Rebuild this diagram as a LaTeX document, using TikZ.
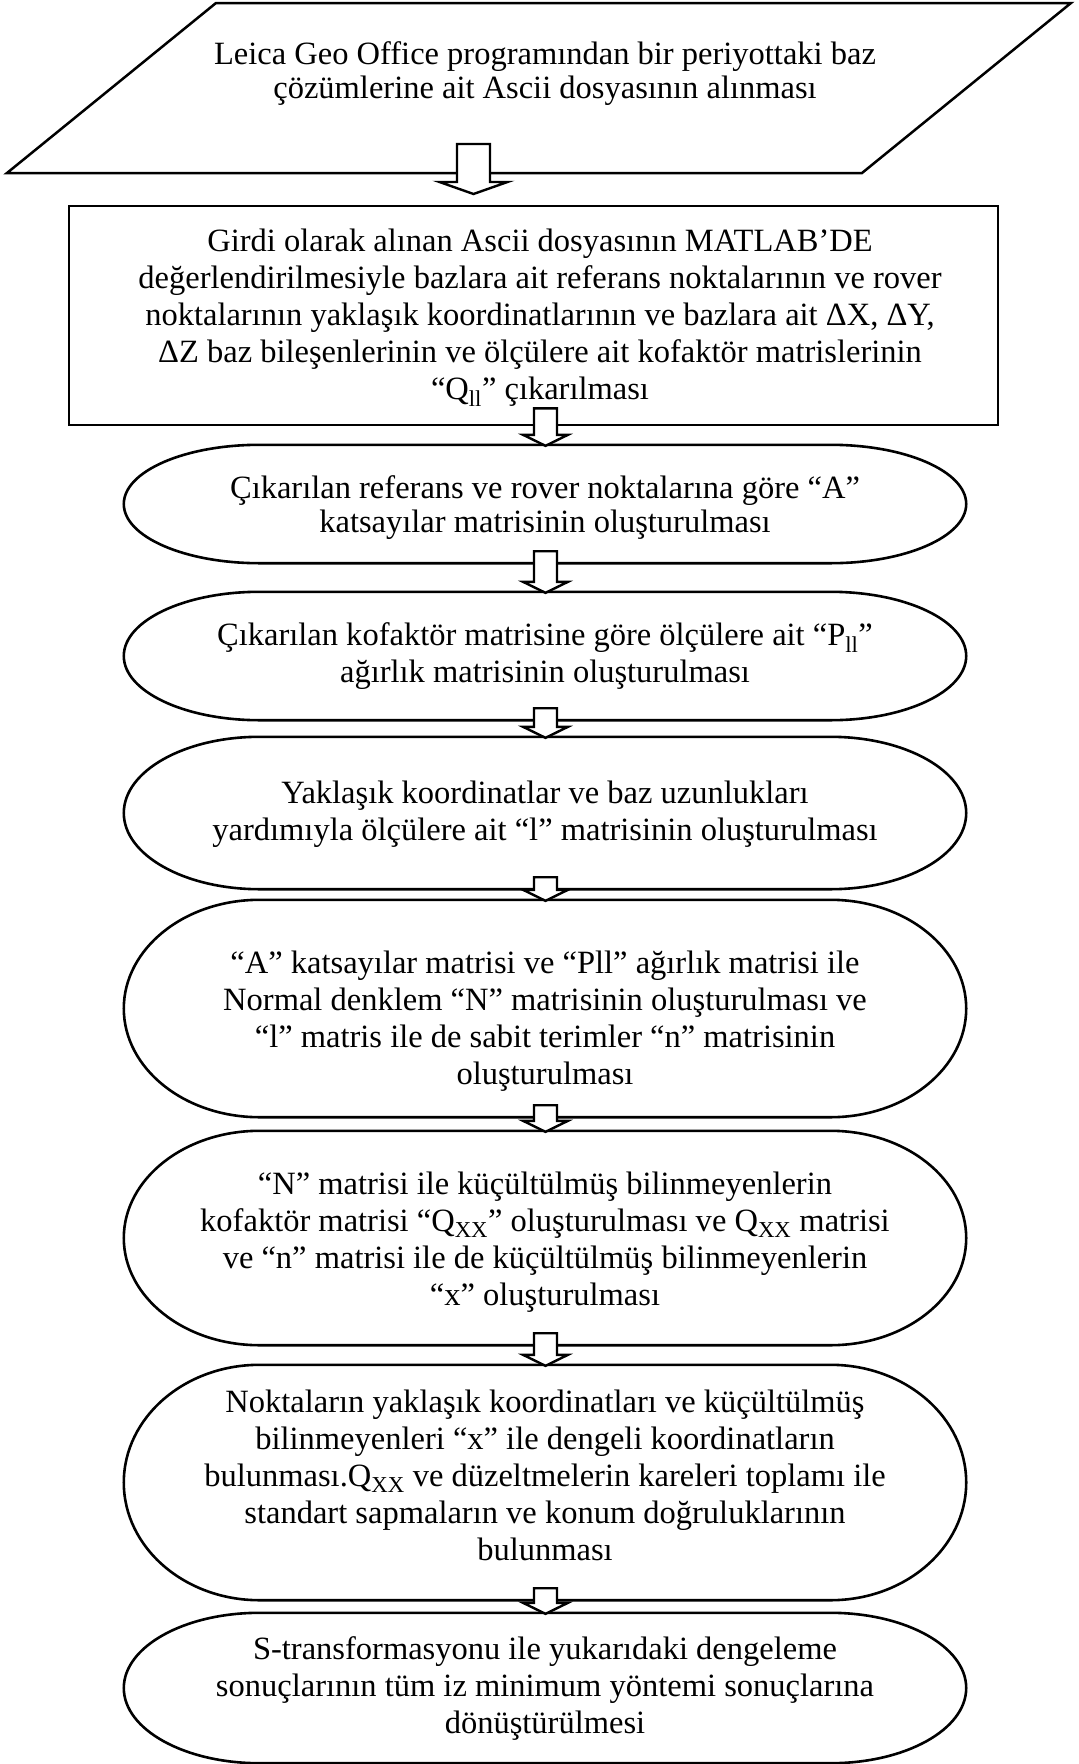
\documentclass[tikz,border=0pt]{standalone}
\usepackage{fontspec}
\setmainfont{Liberation Serif}
\usetikzlibrary{calc}
\newcommand\blockarrow[5]{% start, tip, shaft half width, head half width, head length
  \draw[fill=white, line width=2.4bp, line join=miter] let \p1=#1, \p2=#2 in
    ({\x2-#3bp},\y1) -- ({\x2-#3bp},{\y2+#5bp}) -- ({\x2-#4bp},{\y2+#5bp}) -- (\x2,\y2)
    -- ({\x2+#4bp},{\y2+#5bp}) -- ({\x2+#3bp},{\y2+#5bp}) -- ({\x2+#3bp},\y1) -- cycle;}
\newcommand\stadiumoutline[1]{%
  \draw[line width=2.6bp] let \p1=(#1.north west), \p2=(#1.south east),
    \n1={0.161*(\x2-\x1)}, \n2={(\y1-\y2)/2} in
    ({\x1+\n1},\y1) -- ({\x2-\n1},\y1)
    arc[start angle=90, end angle=-90, x radius=\n1, y radius=\n2]
    -- ({\x1+\n1},\y2)
    arc[start angle=270, end angle=90, x radius=\n1, y radius=\n2] -- cycle;}
\newcommand\sub[1]{\textsubscript{#1}}
\begin{document}
\begin{tikzpicture}[x=1bp, y=-1bp,
  txt/.style={font=\fontsize{32.5bp}{37bp}\selectfont, align=center, inner sep=0pt},
  tighttxt/.style={font=\fontsize{32.5bp}{34bp}\selectfont, align=center, inner sep=0pt},
  stad/.style={inner sep=0pt, minimum width=842bp, minimum height=#1}]
\useasboundingbox[fill=white] (0,0) rectangle (1078,1764);

% input parallelogram
\coordinate (ptl) at (216,3);
\coordinate (ptr) at (1071,3);
\coordinate (pbr) at (862,173);
\coordinate (pbl) at (7,173);
\draw[line width=2.5bp, line join=miter] (ptl) -- (ptr) -- (pbr) -- (pbl) -- cycle;
\node[tighttxt] (p) at (545,74) {Leica Geo Office programından bir periyottaki baz\\
  çözümlerine ait Ascii dosyasının alınması};

% rectangle
\node[draw, line width=2.8bp, inner sep=0pt, minimum width=929bp, minimum height=219bp] (r) at (533.5,315.5) {};
\node[txt] (rt) at (540,317.5) {Girdi olarak alınan Ascii dosyasının MATLAB’DE\\
  değerlendirilmesiyle bazlara ait referans noktalarının ve rover\\
  noktalarının yaklaşık koordinatlarının ve bazlara ait ΔX, ΔY,\\
  ΔZ baz bileşenlerinin ve ölçülere ait kofaktör matrislerinin\\
  “Q\sub{ll}” çıkarılması};

% process shapes
\node[stad=118bp] (e1) at (545,504) {};
\node[stad=128bp] (e2) at (545,656) {};
\node[stad=152bp] (e3) at (545,813) {};
\node[stad=217bp] (e4) at (545,1008.5) {};
\node[stad=214bp] (e5) at (545,1238) {};
\node[stad=235bp] (e6) at (545,1482.5) {};
\node[stad=150bp] (e7) at (545,1688) {};
\foreach \nm in {e1,e2,e3,e4,e5,e6,e7} {\stadiumoutline{\nm}}

\node[tighttxt] (e1t) at ($(e1.center)+(0,3.5)$) {Çıkarılan referans ve rover noktalarına göre “A”\\
  katsayılar matrisinin oluşturulması};
\node[txt] (e2t) at (e2.center) {Çıkarılan kofaktör matrisine göre ölçülere ait “P\sub{ll}”\\
  ağırlık matrisinin oluşturulması};
\node[txt] (e3t) at ($(e3.center)+(0,1)$) {Yaklaşık koordinatlar ve baz uzunlukları\\
  yardımıyla ölçülere ait “l” matrisinin oluşturulması};
\node[txt] (e4t) at ($(e4.center)+(0,13)$) {“A” katsayılar matrisi ve “Pll” ağırlık matrisi ile\\
  Normal denklem “N” matrisinin oluşturulması ve\\
  “l” matris ile de sabit terimler “n” matrisinin\\
  oluşturulması};
\node[txt] (e5t) at ($(e5.center)+(0,4)$) {“N” matrisi ile küçültülmüş bilinmeyenlerin\\
  kofaktör matrisi “Q\sub{XX}” oluşturulması ve Q\sub{XX} matrisi\\
  ve “n” matrisi ile de küçültülmüş bilinmeyenlerin\\
  “x” oluşturulması};
\node[txt] (e6t) at ($(e6.center)+(0,-7)$) {Noktaların yaklaşık koordinatları ve küçültülmüş\\
  bilinmeyenleri “x” ile dengeli koordinatların\\
  bulunması.Q\sub{XX} ve düzeltmelerin kareleri toplamı ile\\
  standart sapmaların ve konum doğruluklarının\\
  bulunması};
\node[txt] (e7t) at (e7.center) {S-transformasyonu ile yukarıdaki dengeleme\\
  sonuçlarının tüm iz minimum yöntemi sonuçlarına\\
  dönüştürülmesi};

% block arrows
\coordinate (a1s) at (473.5,144);
\coordinate (a1t) at (473.5,194);
\blockarrow{(a1s)}{(a1t)}{16.5}{34}{12}
\blockarrow{($(r.south)+(12,-18)$)}{($(e1.north)+(0.5,1)$)}{11.5}{22.5}{11}
\blockarrow{($(e1.south)+(0.5,-12)$)}{($(e2.north)+(0.5,1)$)}{11.5}{22.5}{11}
\blockarrow{($(e2.south)+(0.5,-12)$)}{($(e3.north)+(0.5,1)$)}{11.5}{22.5}{11}
\blockarrow{($(e3.south)+(0.5,-12)$)}{($(e4.north)+(0.5,1)$)}{11.5}{22.5}{11}
\blockarrow{($(e4.south)+(0.5,-12)$)}{($(e5.north)+(0.5,1)$)}{11.5}{22.5}{11}
\blockarrow{($(e5.south)+(0.5,-12)$)}{($(e6.north)+(0.5,1)$)}{11.5}{22.5}{11}
\blockarrow{($(e6.south)+(0.5,-12)$)}{($(e7.north)+(0.5,1)$)}{11.5}{22.5}{11}
\end{tikzpicture}
\end{document}
